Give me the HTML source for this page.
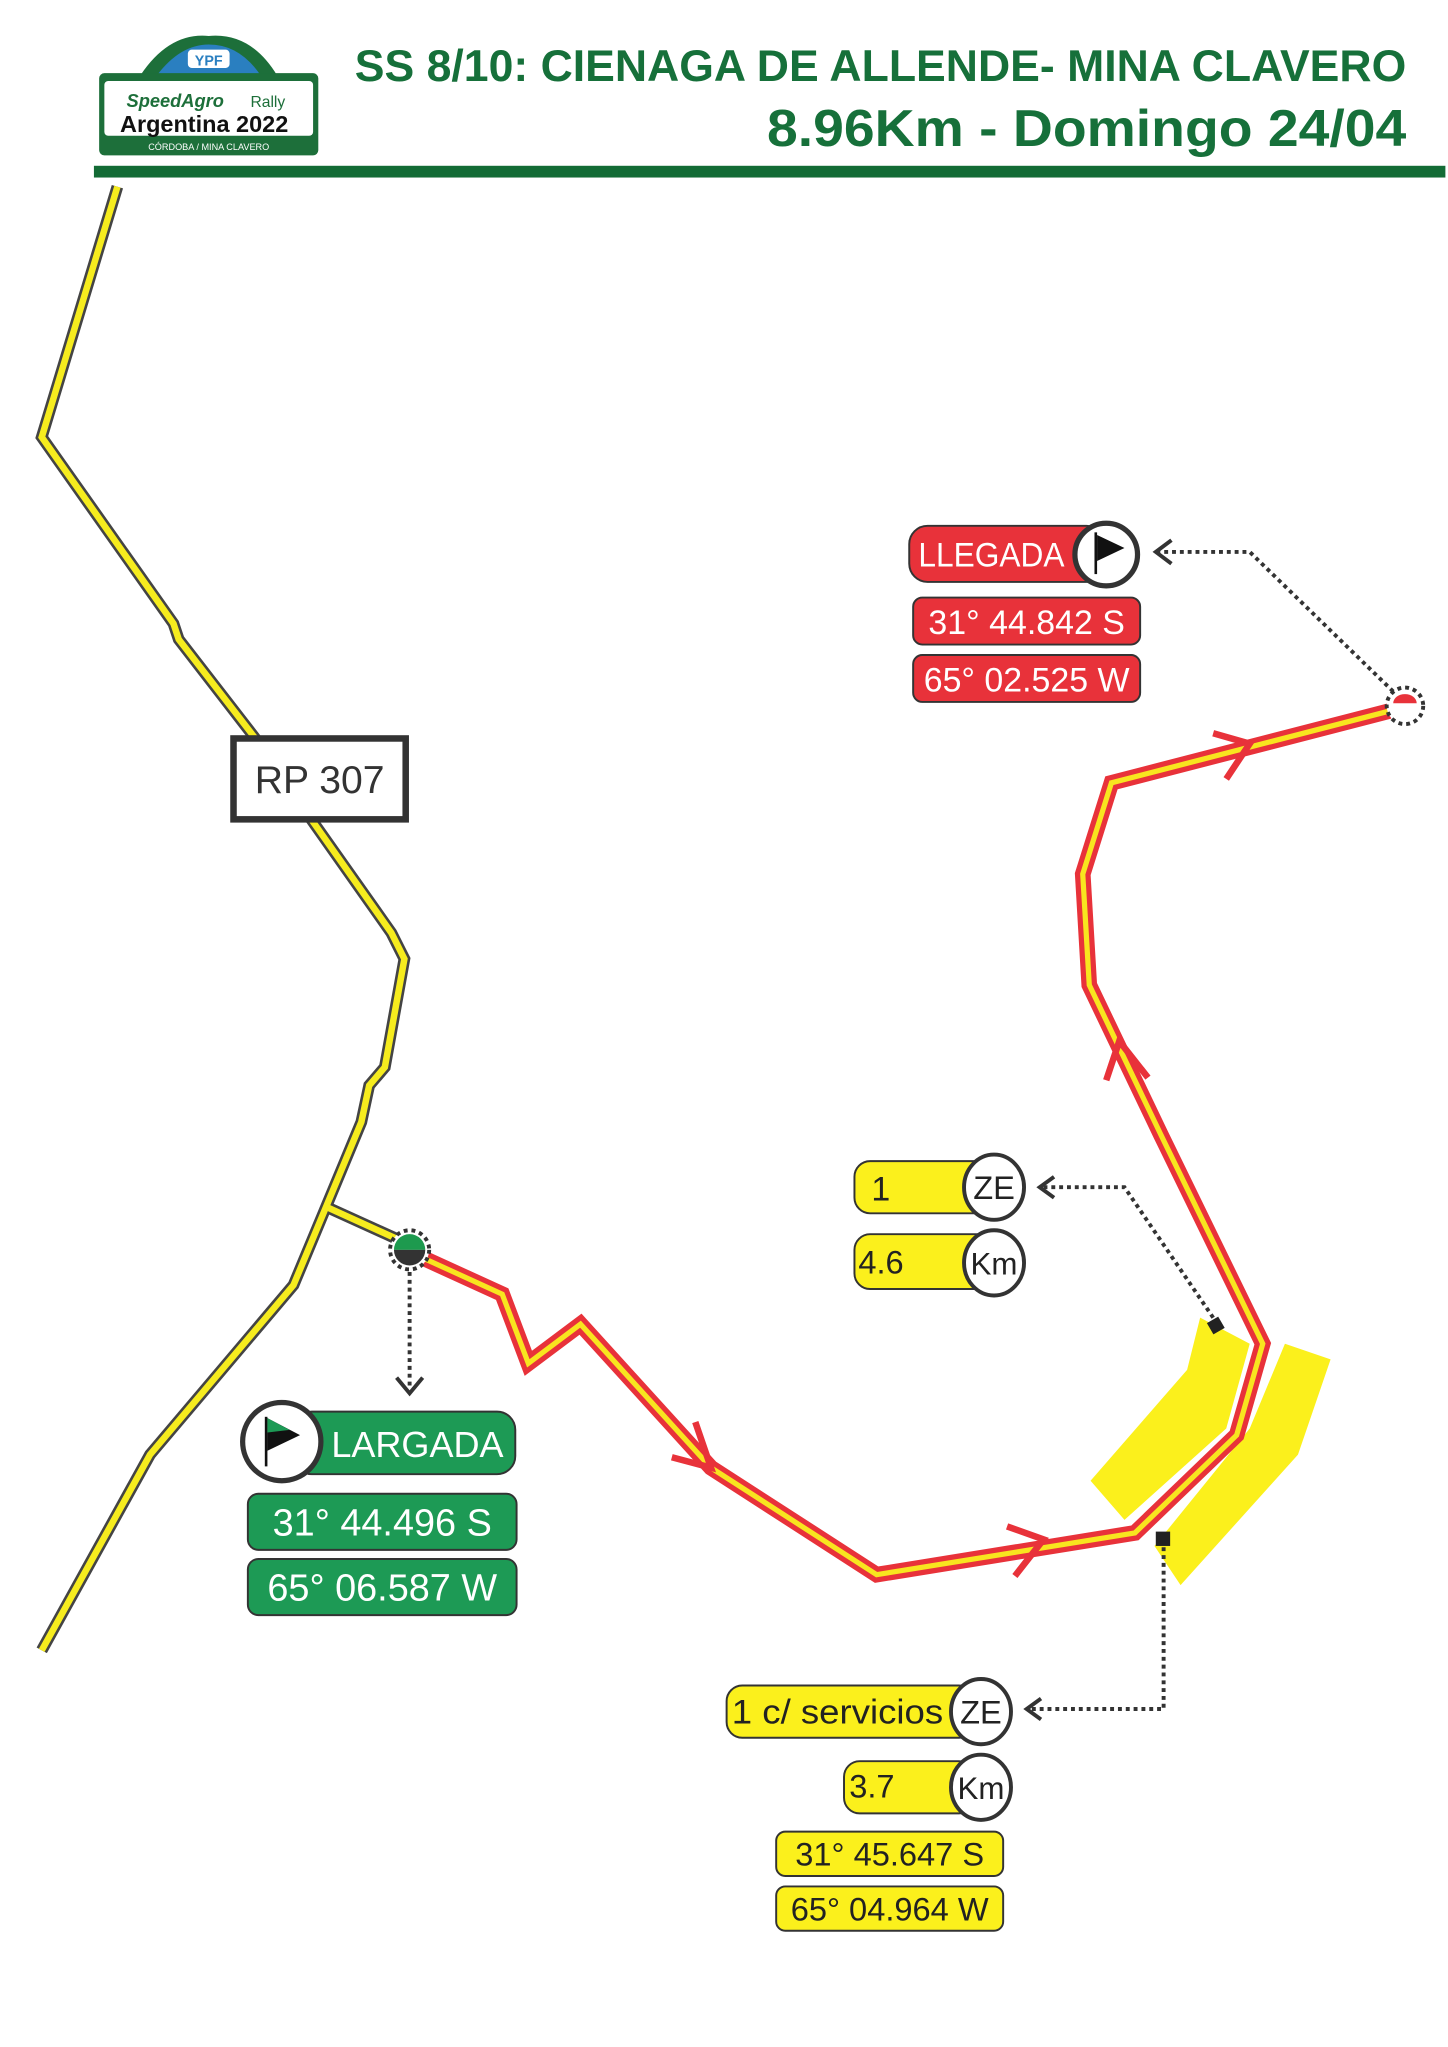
<!DOCTYPE html>
<html><head><meta charset="utf-8"><style>
html,body{margin:0;padding:0;background:#fff;}
svg{display:block}
text{font-family:"Liberation Sans",sans-serif;}
</style></head><body>
<svg width="1448" height="2047" viewBox="0 0 1110 1569" xmlns="http://www.w3.org/2000/svg">
<!-- logo -->
<path d="M108,58 Q130,25 160,28 Q192,25 212,58 Z" fill="#1d6f3a" stroke="#1d6f3a"/>
<path d="M120,58 Q138,34 160,34 Q184,34 200,58 Z" fill="#2a7fc0"/>
<rect x="144" y="38" width="32" height="14" rx="3" fill="#fff"/>
<text x="160" y="50" font-size="11" font-weight="bold" fill="#2a7fc0" text-anchor="middle">YPF</text>
<rect x="76" y="56" width="168" height="63" rx="4" fill="#1d6f3a"/>
<rect x="80" y="62" width="160" height="42" rx="3" fill="#fff"/>
<text x="97" y="82" font-size="14" font-weight="bold" font-style="italic" fill="#1d6f3a">SpeedAgro</text>
<text x="192" y="82" font-size="12" fill="#1d6f3a">Rally</text>
<text x="92" y="101" font-size="18" font-weight="bold" fill="#111">Argentina 2022</text>
<text x="160" y="115" font-size="7" fill="#fff" text-anchor="middle">CÓRDOBA / MINA CLAVERO</text>
<!-- titles -->
<text x="1078" y="62" font-size="34" font-weight="bold" fill="#16703a" text-anchor="end" textLength="806" lengthAdjust="spacingAndGlyphs">SS 8/10: CIENAGA DE ALLENDE- MINA CLAVERO</text>
<text x="1078" y="112" font-size="40" font-weight="bold" fill="#16703a" text-anchor="end" textLength="490" lengthAdjust="spacingAndGlyphs">8.96Km - Domingo 24/04</text>
<rect x="72" y="127" width="1036" height="9" fill="#136b35"/>
<!-- yellow road -->
<g fill="none" stroke-linejoin="miter">
<polyline points="90,143 32,335 133,478 137,490 195,565 240,630 300,715 310,735 295,818 283,832 277,860 250,925 225,985 115,1115 32,1265" stroke="#444" stroke-width="9"/>
<polyline points="250,925 305,950" stroke="#444" stroke-width="9"/>
<polyline points="90,143 32,335 133,478 137,490 195,565 240,630 300,715 310,735 295,818 283,832 277,860 250,925 225,985 115,1115 32,1265" stroke="#f6ec1e" stroke-width="5"/>
<polyline points="250,925 305,950" stroke="#f6ec1e" stroke-width="5"/>
</g>
<rect x="179" y="566" width="132" height="62" fill="#fff" stroke="#333" stroke-width="5"/>
<text x="245" y="608" font-size="30" fill="#333" text-anchor="middle">RP 307</text>
<!-- yellow patches -->
<polygon points="920,1010 958,1030 940,1095 862,1165 836,1135 910,1050" fill="#fbf01c"/>
<polygon points="985,1030 1020,1042 995,1115 905,1215 885,1185 958,1095" fill="#fbf01c"/>
<!-- red route -->
<g fill="none" stroke-linejoin="miter">
<polyline points="315,960 385,992 405,1045 445,1015 545,1125 672,1207 870,1175 948,1100 968,1030 890,870 835,755 830,670 852,600 1065,545" stroke="#e8323a" stroke-width="12"/>
<polyline points="315,960 385,992 405,1045 445,1015 545,1125 672,1207 870,1175 948,1100 968,1030 890,870 835,755 830,670 852,600 1065,545" stroke="#f8e51f" stroke-width="4"/>
<g stroke="#e8323a" stroke-width="5">
<polyline points="533,1090 545,1125 515,1117"/>
<polyline points="772,1170 800,1180 778,1208"/>
<polyline points="848,828 858,798 880,826"/>
<polyline points="930,562 958,570 940,597"/>
</g>
</g>
<!-- start marker -->
<circle cx="314" cy="958" r="15" fill="#fff" stroke="#333" stroke-width="3" stroke-dasharray="3,3"/>
<path d="M302,958 A12,12 0 0 1 326,958 Z" fill="#1d9a4e"/>
<path d="M302,958 A12,12 0 0 0 326,958 Z" fill="#333"/>
<line x1="314" y1="975" x2="314" y2="1064" stroke="#333" stroke-width="3" stroke-dasharray="3,3"/>
<polyline points="304,1056 314,1068 324,1056" fill="none" stroke="#333" stroke-width="3"/>
<!-- LARGADA -->
<rect x="225" y="1082" width="170" height="48" rx="14" fill="#1d9a55" stroke="#333" stroke-width="1.5"/>
<text x="320" y="1117" font-size="28" fill="#fff" text-anchor="middle" textLength="132" lengthAdjust="spacingAndGlyphs">LARGADA</text>
<circle cx="216" cy="1105" r="30" fill="#fff" stroke="#333" stroke-width="4"/>
<line x1="204" y1="1086" x2="204" y2="1124" stroke="#111" stroke-width="2"/>
<path d="M205,1087 L230,1100 L205,1112 Z" fill="#111"/>
<path d="M205,1087 L222,1096 L205,1098 Z" fill="#1d9a55"/>
<rect x="190" y="1145" width="206" height="43" rx="8" fill="#1d9a55" stroke="#333" stroke-width="1.5"/>
<text x="293" y="1177" font-size="29" fill="#fff" text-anchor="middle">31° 44.496 S</text>
<rect x="190" y="1195" width="206" height="43" rx="8" fill="#1d9a55" stroke="#333" stroke-width="1.5"/>
<text x="293" y="1227" font-size="29" fill="#fff" text-anchor="middle">65° 06.587 W</text>
<!-- finish marker -->
<circle cx="1077" cy="541" r="14" fill="#fff" stroke="#333" stroke-width="3" stroke-dasharray="3,3"/>
<path d="M1068,539 A9,7 0 0 1 1086,539 Z" fill="#e8323a"/>
<polyline points="1068,530 958,423 888,423" fill="none" stroke="#333" stroke-width="3" stroke-dasharray="3,3"/>
<polyline points="898,414 886,423 898,432" fill="none" stroke="#333" stroke-width="3"/>
<!-- LLEGADA -->
<rect x="697" y="403" width="150" height="43" rx="14" fill="#e8323a" stroke="#333" stroke-width="1.5"/>
<text x="704" y="434" font-size="26" fill="#fff" textLength="112" lengthAdjust="spacingAndGlyphs">LLEGADA</text>
<circle cx="848" cy="425" r="24" fill="#fff" stroke="#333" stroke-width="4"/>
<line x1="840" y1="408" x2="840" y2="440" stroke="#111" stroke-width="2"/>
<path d="M841,410 L862,420 L841,430 Z" fill="#111"/>
<rect x="700" y="458" width="174" height="36" rx="7" fill="#e8323a" stroke="#333" stroke-width="1.5"/>
<text x="787" y="486" font-size="26" fill="#fff" text-anchor="middle">31° 44.842 S</text>
<rect x="700" y="502" width="174" height="36" rx="7" fill="#e8323a" stroke="#333" stroke-width="1.5"/>
<text x="787" y="530" font-size="26" fill="#fff" text-anchor="middle">65° 02.525 W</text>
<!-- ZE 1 -->
<rect x="927" y="1011" width="10" height="10" fill="#222" transform="rotate(-30 932 1016)"/>
<polyline points="930,1010 862,910 800,910" fill="none" stroke="#333" stroke-width="3" stroke-dasharray="3,3"/>
<polyline points="808,902 797,910 808,918" fill="none" stroke="#333" stroke-width="3"/>
<rect x="655" y="890" width="110" height="40" rx="12" fill="#fbf01c" stroke="#333" stroke-width="1.5"/>
<text x="668" y="920" font-size="26" fill="#222">1</text>
<ellipse cx="762" cy="910" rx="23" ry="25" fill="#fff" stroke="#333" stroke-width="3"/>
<text x="762" y="919" font-size="25" fill="#222" text-anchor="middle">ZE</text>
<rect x="655" y="946" width="110" height="42" rx="12" fill="#fbf01c" stroke="#333" stroke-width="1.5"/>
<text x="658" y="976" font-size="25" fill="#222">4.6</text>
<ellipse cx="762" cy="968" rx="23" ry="25" fill="#fff" stroke="#333" stroke-width="3"/>
<text x="762" y="977" font-size="24" fill="#222" text-anchor="middle">Km</text>
<!-- ZE servicios -->
<rect x="886" y="1174" width="11" height="11" fill="#222"/>
<polyline points="892,1186 892,1310 790,1310" fill="none" stroke="#333" stroke-width="3" stroke-dasharray="3,3"/>
<polyline points="798,1302 787,1310 798,1318" fill="none" stroke="#333" stroke-width="3"/>
<rect x="557" y="1292" width="190" height="40" rx="12" fill="#fbf01c" stroke="#333" stroke-width="1.5"/>
<text x="561" y="1321" font-size="26" fill="#222" textLength="162" lengthAdjust="spacingAndGlyphs">1 c/ servicios</text>
<ellipse cx="752" cy="1312" rx="23" ry="25" fill="#fff" stroke="#333" stroke-width="3"/>
<text x="752" y="1321" font-size="25" fill="#222" text-anchor="middle">ZE</text>
<rect x="647" y="1350" width="100" height="40" rx="12" fill="#fbf01c" stroke="#333" stroke-width="1.5"/>
<text x="651" y="1378" font-size="25" fill="#222">3.7</text>
<ellipse cx="752" cy="1370" rx="23" ry="25" fill="#fff" stroke="#333" stroke-width="3"/>
<text x="752" y="1379" font-size="24" fill="#222" text-anchor="middle">Km</text>
<rect x="595" y="1404" width="174" height="34" rx="7" fill="#fbf01c" stroke="#333" stroke-width="1.5"/>
<text x="682" y="1430" font-size="25" fill="#222" text-anchor="middle">31° 45.647 S</text>
<rect x="595" y="1446" width="174" height="34" rx="7" fill="#fbf01c" stroke="#333" stroke-width="1.5"/>
<text x="682" y="1472" font-size="25" fill="#222" text-anchor="middle">65° 04.964 W</text>
</svg>
</body></html>
